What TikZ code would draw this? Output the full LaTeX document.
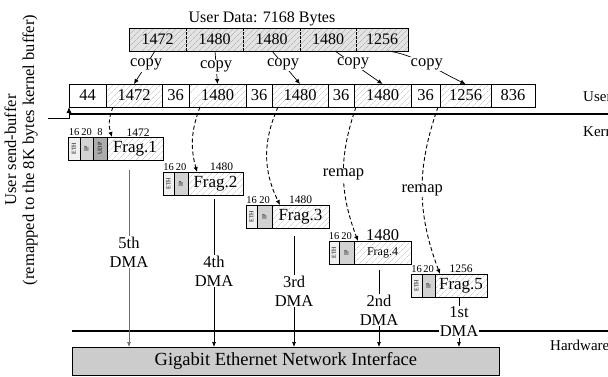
\documentclass[tikz,border=0pt]{standalone}
\usepackage{fontspec}
\usepackage{graphicx}
\setmainfont{Liberation Serif}
\usetikzlibrary{patterns.meta,arrows.meta,calc}
\begin{document}
\begin{tikzpicture}[x=1pt,y=1pt,
  cell/.style={draw,line width=0.8pt,inner sep=0pt,outer sep=0pt,minimum height=23pt,anchor=north west,font=\fontsize{16.5}{17}\selectfont},
  topcell/.style={inner sep=0pt,outer sep=0pt,minimum height=23pt,anchor=north west,font=\fontsize{16}{17}\selectfont,
    preaction={fill=gray!22},pattern={Lines[angle=45,distance=4pt,line width=0.4pt]},pattern color=gray!75},
  hatch/.style={pattern={Lines[angle=45,distance=4pt,line width=0.4pt]},pattern color=gray!55},
  hdr/.style={draw,line width=0.7pt,inner sep=0pt,outer sep=0pt,minimum height=23pt,anchor=north west,font=\fontsize{6}{6.5}\selectfont},
  small/.style={anchor=south,inner sep=0.8pt,font=\fontsize{11.5}{12}\selectfont},
  tiny/.style={anchor=south,inner sep=0.8pt,font=\fontsize{10.5}{11}\selectfont},
  lbl/.style={fill=white,inner sep=1pt,font=\fontsize{16.5}{19}\selectfont,align=center},
  copyarrow/.style={line width=0.7pt,-{Latex[length=5pt,width=4.5pt]}},
  remaparrow/.style={line width=0.9pt,dash pattern=on 4pt off 2.5pt,-{Latex[length=5pt,width=4.5pt]}},
  dmaarrow/.style={line width=0.7pt,-{Latex[length=5pt,width=4pt]}},
  sep/.style={line width=1.8pt},
  side/.style={anchor=west,inner sep=0pt,font=\fontsize{15}{16}\selectfont}
]
\useasboundingbox (0,0) rectangle (608,-376);

% top user data bar
\node[anchor=south,inner sep=1pt,font=\fontsize{16}{17}\selectfont] (title) at (262,-27) {User Data: 7168 Bytes};
\node[topcell,minimum width=57pt] (t1) at (129,-28) {1472};
\node[topcell,minimum width=57pt] (t2) at (186,-28) {1480};
\node[topcell,minimum width=57pt] (t3) at (243,-28) {1480};
\node[topcell,minimum width=56pt] (t4) at (300,-28) {1480};
\node[topcell,minimum width=52pt] (t5) at (356,-28) {1256};
\draw[line width=0.8pt] (t1.north west) rectangle (t5.south east);
\foreach \n in {t1,t2,t3,t4}
  \draw[line width=0.9pt,dash pattern=on 2.5pt off 1.5pt] (\n.north east) -- (\n.south east);

% user buffer
\node[cell,minimum width=37pt] (b1) at (69,-84) {44};
\node[cell,hatch,minimum width=56pt] (b2) at (106,-84) {1472};
\node[cell,minimum width=27pt] (b3) at (162,-84) {36};
\node[cell,hatch,minimum width=57pt] (b4) at (189,-84) {1480};
\node[cell,minimum width=26pt] (b5) at (246,-84) {36};
\node[cell,hatch,minimum width=56pt] (b6) at (272,-84) {1480};
\node[cell,minimum width=26pt] (b7) at (328,-84) {36};
\node[cell,hatch,minimum width=57pt] (b8) at (354,-84) {1480};
\node[cell,minimum width=29pt] (b9) at (411,-84) {36};
\node[cell,hatch,minimum width=51pt] (b10) at (440,-84) {1256};
\node[cell,minimum width=44pt] (b11) at (491,-84) {836};

% copy arrows
\coordinate (s1) at (155,-51);
\coordinate (s2) at (215,-51);
\coordinate (s3) at (272,-51);
\coordinate (s4) at (335,-51);
\coordinate (s5) at (388,-51);
\draw[copyarrow] (s1) -- node[lbl,pos=0.42]{copy} (b2.north);
\draw[copyarrow] (s2) -- node[lbl,pos=0.48]{copy} (b4.north);
\draw[copyarrow] (s3) -- node[lbl,pos=0.4]{copy} (b6.north);
\draw[copyarrow] (s4) -- node[lbl,pos=0.38]{copy} (b8.north);
\draw[copyarrow] (s5) .. controls ($(s5)+(25,-3)$) and ($(b10.north)+(-25,12)$) .. node[lbl,pos=0.5]{copy} (b10.north);

% separators
\coordinate (uk0) at (69,-114);
\coordinate (uk1) at (608,-114);
\draw[sep] (uk0) -- (uk1);
\coordinate (hw0) at (72,-331);
\coordinate (hw1) at (608,-331);
\draw[sep] (hw0) -- (hw1);
\node[side] (luser) at (583,-97) {User};
\node[side] (lkern) at (583,-131) {Kernel};
\node[side] (lhw) at (550,-345) {Hardware};

% side label
\node[rotate=90,align=center,inner sep=0pt,font=\fontsize{16.5}{18}\selectfont] (sidelbl) at (21,-150) {User send-buffer\\(remapped to the 8K bytes kernel buffer)};
\coordinate (sl) at (48,-118);
\draw[line width=0.8pt,-{Latex[length=6pt,width=5pt]}] (sl) -| (b1.south west);

% fragments
% Frag.1
\node[hdr,fill=gray!12,minimum width=12pt] (f1e) at (68,-137) {\rotatebox{90}{ETH}};
\node[hdr,fill=gray!35,minimum width=13pt] (f1i) at (80,-137) {\rotatebox{90}{IP}};
\node[hdr,fill=gray!65,minimum width=14pt] (f1u) at (93,-137) {\rotatebox{90}{UDP}};
\node[cell,hatch,minimum width=56pt,font=\fontsize{17}{18}\selectfont] (f1d) at (107,-137) {Frag.1};
\node[tiny] at (f1e.north) {16};
\node[tiny] at (f1i.north) {20};
\node[tiny] at (f1u.north) {8};
\node[small] at ($(f1d.north)+(3,0)$) {1472};
% Frag.2
\node[hdr,fill=gray!12,minimum width=11pt] (f2e) at (163,-172) {\rotatebox{90}{ETH}};
\node[hdr,fill=gray!35,minimum width=14pt] (f2i) at (174,-172) {\rotatebox{90}{IP}};
\node[cell,hatch,minimum width=55pt,font=\fontsize{17}{18}\selectfont] (f2d) at (188,-172) {Frag.2};
\node[tiny] at (f2e.north) {16};
\node[tiny] at (f2i.north) {20};
\node[small] at ($(f2d.north)+(6,0)$) {1480};
% Frag.3
\node[hdr,fill=gray!12,minimum width=11pt] (f3e) at (246,-205) {\rotatebox{90}{ETH}};
\node[hdr,fill=gray!35,minimum width=15pt] (f3i) at (257,-205) {\rotatebox{90}{IP}};
\node[cell,hatch,minimum width=57pt,font=\fontsize{17}{18}\selectfont] (f3d) at (272,-205) {Frag.3};
\node[tiny] at (f3e.north) {16};
\node[tiny] at (f3i.north) {20};
\node[small] at (f3d.north) {1480};
% Frag.4
\node[hdr,fill=gray!12,minimum width=10pt] (f4e) at (329,-241) {\rotatebox{90}{ETH}};
\node[hdr,fill=gray!35,minimum width=15pt] (f4i) at (339,-241) {\rotatebox{90}{IP}};
\node[cell,hatch,minimum width=57pt,font=\fontsize{12}{13}\selectfont] (f4d) at (354,-241) {Frag.4};
\node[tiny] at (f4e.north) {16};
\node[tiny] at (f4i.north) {20};
\node[small,font=\fontsize{16.5}{17}\selectfont,inner sep=0pt] at (f4d.north) {1480};
% Frag.5
\node[hdr,fill=gray!12,minimum width=11pt] (f5e) at (411,-274) {\rotatebox{90}{ETH}};
\node[hdr,fill=gray!35,minimum width=13pt] (f5i) at (422,-274) {\rotatebox{90}{IP}};
\node[cell,hatch,minimum width=52pt,font=\fontsize{17}{18}\selectfont] (f5d) at (435,-274) {Frag.5};
\node[tiny] at (f5e.north) {16};
\node[tiny] at (f5i.north) {20};
\node[small] at (f5d.north) {1256};

% remap arrows
\draw[remaparrow] ($(b2.south west)+(7,0)$) to[bend right=20] ($(f1d.north west)+(5,0)$);
\draw[remaparrow] ($(b4.south west)+(11,0)$) to[bend right=18] ($(f2d.north west)+(9,0)$);
\draw[remaparrow] ($(b6.south west)+(6,0)$) to[bend right=25] ($(f3d.north west)+(8,0)$);
\draw[remaparrow] ($(b8.south west)+(2,0)$) to[bend right=20] node[lbl,pos=0.5]{remap} ($(f4d.north west)+(4,0)$);
\draw[remaparrow] ($(b10.south west)+(-2,0)$) to[bend right=20] node[lbl,pos=0.5]{remap} ($(f5d.north west)+(5,0)$);

% Gigabit interface
\node[draw,fill=gray!40,line width=0.8pt,inner sep=0pt,minimum width=427pt,minimum height=28pt,anchor=north west,font=\fontsize{18.5}{20}\selectfont] (gb) at (72,-347) {Gigabit Ethernet Network Interface};

% DMA arrows
\coordinate (d1) at ($(f1d.south west)+(22,-10)$);
\coordinate (d2) at ($(f2d.south west)+(26,-4)$);
\coordinate (d3) at ($(f3d.south west)+(22,-8)$);
\coordinate (d4) at ($(f4d.south west)+(25,-6)$);
\coordinate (d5) at ($(f5d.south west)+(24,-1)$);
\draw[dmaarrow,draw=gray!85!black] (d1) -- (d1 |- gb.north);
\draw[dmaarrow] (d2) -- (d2 |- gb.north);
\draw[dmaarrow] (d3) -- (d3 |- gb.north);
\draw[dmaarrow] (d4) -- (d4 |- gb.north);
\draw[dmaarrow] (d5) -- (d5 |- gb.north);
\node[lbl] (l1) at (d1 |- 0,-252) {5th\\DMA};
\node[lbl] (l2) at (d2 |- 0,-271) {4th\\DMA};
\node[lbl] (l3) at (d3 |- 0,-291) {3rd\\DMA};
\node[lbl] (l4) at (d4 |- 0,-310) {2nd\\DMA};
\node[lbl] (l5) at (d5 |- 0,-322) {1st\\DMA};
\end{tikzpicture}
\end{document}
